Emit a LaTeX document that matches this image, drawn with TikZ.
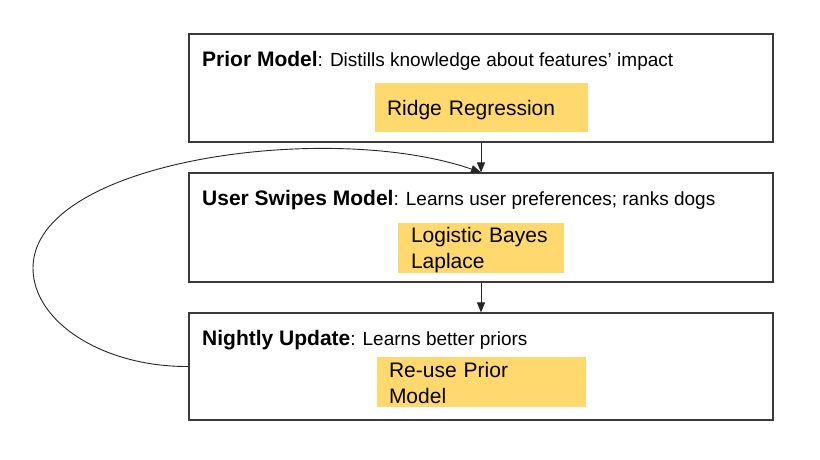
\documentclass[tikz,border=0pt]{standalone}
\usepackage{fontspec}
\setmainfont{Liberation Sans}
\usetikzlibrary{arrows.meta}
\definecolor{noteyellow}{HTML}{FFD86E}
\definecolor{edgegray}{HTML}{3A3A3A}

\begin{document}
\begin{tikzpicture}[x=1pt,y=-1pt,
    stage/.style={draw=edgegray,line width=1.2pt,minimum width=584pt,inner sep=0pt},
    method/.style={fill=noteyellow,inner ysep=0pt,minimum height=48pt,align=left,
      font=\fontsize{21}{26}\selectfont},
    title/.style={anchor=base west,inner sep=0pt,font=\fontsize{19}{23}\selectfont},
    flow/.style={-{Triangle[length=10pt,width=8pt]},draw=black!85,line width=0.9pt}]
  \useasboundingbox (0,0) rectangle (820,459);
  % the three stages
  \node[stage,minimum height=108pt] (prior) at (481,88) {};
  \node[stage,minimum height=109pt] (swipes) at (481,227.5) {};
  \node[stage,minimum height=107pt] (update) at (481,366.5) {};
  \node[title] (priortitle) at (202,66)
    {{\fontsize{21}{25}\selectfont\bfseries Prior Model}: Distills knowledge about features’ impact};
  \node[title] (swipestitle) at (202,205)
    {{\fontsize{21}{25}\selectfont\bfseries User Swipes Model}: Learns user preferences; ranks dogs};
  \node[title] (updatetitle) at (202,345)
    {{\fontsize{21}{25}\selectfont\bfseries Nightly Update}: Learns better priors};
  \node[method,inner xsep=12pt,text width=189pt,minimum height=49pt] (ridge) at (481.5,107.5)
    {\rule[-4pt]{0pt}{25pt}Ridge Regression};
  \node[method,inner xsep=13pt,text width=140pt] (logit) at (481,248)
    {\rule{0pt}{20pt}Logistic Bayes\\Laplace\rule[-4pt]{0pt}{4pt}};
  \node[method,inner xsep=12pt,text width=185pt] (reuse) at (481.5,382)
    {\rule{0pt}{20pt}Re-use Prior\\Model\rule[-4pt]{0pt}{4pt}};
  % flow between stages
  \draw[flow] (prior) -- (swipes);
  \draw[flow] (swipes) -- (update);
  \coordinate (loopleft) at (33,268);
  \draw[flow] (update.west) .. controls (103,367) and (33,322) .. (loopleft)
    .. controls (33,160) and (330,120) .. (swipes.north);
\end{tikzpicture}
\end{document}
